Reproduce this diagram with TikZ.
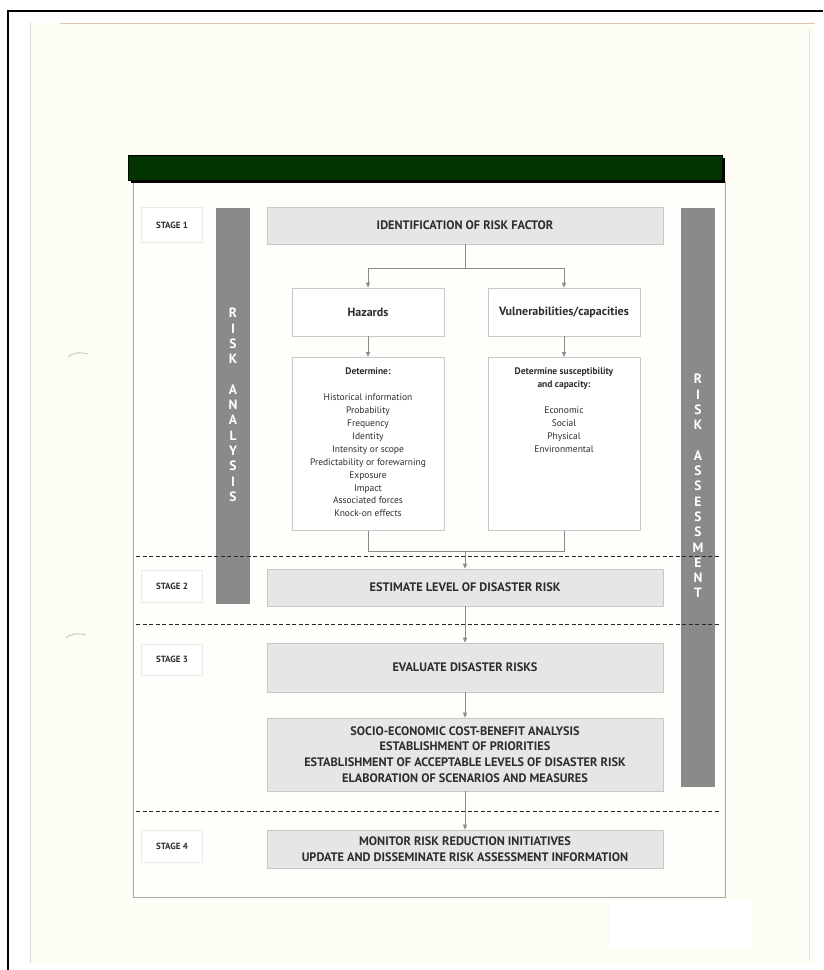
\documentclass[tikz,border=0pt]{standalone}
\usepackage{fontspec}
\setmainfont{PT Sans}
\usetikzlibrary{arrows.meta}
\definecolor{pagecream}{RGB}{253,253,246}
\definecolor{bargray}{RGB}{138,138,138}
\definecolor{boxfill}{RGB}{230,230,230}
\definecolor{boxline}{RGB}{200,200,200}
\definecolor{txt}{RGB}{45,45,45}
\definecolor{conn}{RGB}{138,138,138}
\definecolor{hdrgreen}{RGB}{1,52,1}
\tikzset{
  graybox/.style={draw=boxline, fill=boxfill, line width=0.6pt, text=txt, font=\bfseries\fontsize{12.3}{15}\selectfont, align=center, inner sep=0pt},
  whitebox/.style={draw=boxline, fill=white, line width=0.6pt, text=txt, align=center, inner sep=0pt},
  listtext/.style={text=txt, align=center, inner sep=0pt, font=\fontsize{9.5}{12.9}\selectfont},
  stagebox/.style={draw=black!8, fill=white, line width=0.5pt, text=txt, font=\bfseries\fontsize{9}{10}\selectfont, minimum width=61pt, inner sep=0pt},
  sidebar/.style={fill=bargray, draw=none},
  barletter/.style={text=white, font=\bfseries\fontsize{13.5}{15}\selectfont, inner sep=0pt},
  conline/.style={draw=conn, line width=0.8pt},
  arr/.style={conline, -{Triangle[width=4pt,length=5pt]}},
  stagesep/.style={draw=black!85, line width=1pt, dash pattern=on 4pt off 2.5pt}
}
\begin{document}
\begin{tikzpicture}[x=1pt,y=-1pt]
\useasboundingbox (0,0) rectangle (823,970);
\fill[white] (0,0) rectangle (823,970);
% scanned page
\fill[pagecream] (29,23) rectangle (815,963);
\draw[black!15, line width=0.6pt] (30,23) -- (30,963);
\draw[black!10, line width=0.6pt] (809,30) -- (809,960);
\draw[brown!45, line width=0.8pt] (60,23) -- (815,23);
\fill[white] (610,900) rectangle (753,948);
\draw[black!25, line width=0.8pt] (68,357) .. controls (74,352) and (82,352) .. (88,354);
\draw[black!25, line width=0.8pt] (66,638) .. controls (72,633) and (80,633) .. (86,635);
% outer black frame
\draw[black, line width=2pt] (8,970) -- (8,11) -- (823,11);
% main frame
\draw[black!35, fill=white!60!pagecream, line width=0.8pt] (133,181) rectangle (725,897);
% header bar
\fill[black] (131,158) rectangle (725,183);
\draw[black, fill=hdrgreen, line width=0.8pt] (128,155) rectangle (722,180);
% side bars
\fill[sidebar] (216,208) rectangle (250,604);
\fill[sidebar] (681,208) rectangle (715,787);
\foreach \l/\k [count=\n] in {R/0,I/1,S/2,K/3,A/5,N/6,A/7,L/8,Y/9,S/10,I/11,S/12}
  \node[barletter] (la\n) at (233,{313+\k*15.3}) {\l};
\foreach \l/\k [count=\n] in {R/0,I/1,S/2,K/3,A/5,S/6,S/7,E/8,S/9,S/10,M/11,E/12,N/13,T/14}
  \node[barletter] (ra\n) at (698,{379+\k*15.3}) {\l};
% stage labels
\node[stagebox, minimum height=35pt] (s1) at (172,225) {STAGE 1};
\node[stagebox, minimum height=32pt] (s2) at (172,586) {STAGE 2};
\node[stagebox, minimum height=31pt] (s3) at (172,659.5) {STAGE 3};
\node[stagebox, minimum height=32pt] (s4) at (172,846) {STAGE 4};
% separators
\coordinate (d1a) at (136,556); \coordinate (d1b) at (719,556);
\coordinate (d2a) at (136,624); \coordinate (d2b) at (719,624);
\coordinate (d3a) at (136,811); \coordinate (d3b) at (719,811);
\draw[stagesep] (d1a) -- (d1b);
\draw[stagesep] (d2a) -- (d2b);
\draw[stagesep] (d3a) -- (d3b);
% main boxes
\node[graybox, minimum width=396pt, minimum height=37pt] (ident) at (465,225.5) {IDENTIFICATION OF RISK FACTOR};
\node[whitebox, minimum width=152pt, minimum height=48pt, font=\bfseries\fontsize{12}{14}\selectfont] (haz) at (368,312) {Hazards};
\node[whitebox, minimum width=152pt, minimum height=48pt, font=\bfseries\fontsize{12}{14}\selectfont] (vul) at (564,312) {Vulnerabilities/capacities};
\node[whitebox, minimum width=152pt, minimum height=173pt, anchor=north] (detH) at (368,357) {};
\node[whitebox, minimum width=152pt, minimum height=173pt, anchor=north] (detV) at (564,357) {};
\node[listtext, anchor=north] (detHt) at (368,368)
  {\textbf{Determine:}\\[12.9pt]
   Historical information\\Probability\\Frequency\\Identity\\Intensity or scope\\Predictability or forewarning\\Exposure\\Impact\\Associated forces\\Knock-on effects};
\node[listtext, anchor=north] (detVt) at (564,368)
  {\textbf{Determine susceptibility}\\\textbf{and capacity:}\\[12.9pt]
   Economic\\Social\\Physical\\Environmental};
\node[graybox, minimum width=396pt, minimum height=37pt] (est) at (465,587.5) {ESTIMATE LEVEL OF DISASTER RISK};
\node[graybox, minimum width=396pt, minimum height=49pt] (eval) at (465,667.5) {EVALUATE DISASTER RISKS};
\node[graybox, minimum width=396pt, minimum height=73pt, font=\bfseries\fontsize{12.3}{15.7}\selectfont] (socio) at (465,754.5)
  {SOCIO-ECONOMIC COST-BENEFIT ANALYSIS\\ESTABLISHMENT OF PRIORITIES\\ESTABLISHMENT OF ACCEPTABLE LEVELS OF DISASTER RISK\\ELABORATION OF SCENARIOS AND MEASURES};
\node[graybox, minimum width=396pt, minimum height=38pt, font=\bfseries\fontsize{12.3}{16}\selectfont] (mon) at (465,849)
  {MONITOR RISK REDUCTION INITIATIVES\\UPDATE AND DISSEMINATE RISK ASSESSMENT INFORMATION};
% connectors
\coordinate (j1) at (465,268);
\coordinate (j2) at (465,551);
\draw[conline] (ident.south) -- (j1);
\draw[arr] (j1) -| (haz.north);
\draw[arr] (j1) -| (vul.north);
\draw[arr] (haz.south) -- (detH.north);
\draw[arr] (vul.south) -- (detV.north);
\draw[conline] (detH.south) |- (j2);
\draw[conline] (detV.south) |- (j2);
\draw[arr] (j2) -- (est.north);
\draw[arr] (est.south) -- (eval.north);
\draw[arr] (eval.south) -- (socio.north);
\draw[arr] (socio.south) -- (mon.north);
\end{tikzpicture}
\end{document}
